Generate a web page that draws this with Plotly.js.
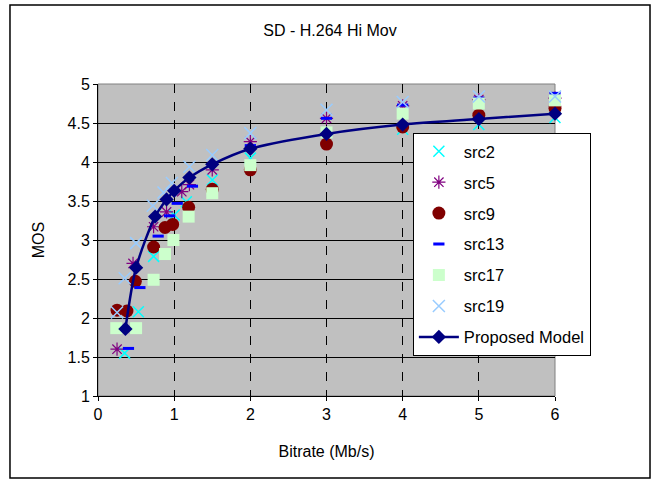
<!DOCTYPE html>
<html>
<head>
<meta charset="utf-8">
<script src="https://cdn.plot.ly/plotly-3.0.1.min.js"></script>
<style>html,body{margin:0;padding:0;background:#fff;}#chart{width:660px;height:485px;}</style>
</head>
<body>
<div id="chart"></div>
<script>
// Data
const src2X  = [0.35, 0.53, 0.73, 1.0, 1.16, 1.5, 2, 3, 4, 5, 6];
const src2Y  = [1.55, 2.08, 2.79, 3.32, 3.49, 3.77, 4.05, 4.28, 4.42, 4.48, 4.57];
const src5X  = [0.25, 0.46, 0.73, 0.9, 1.1, 1.2, 1.5, 2, 3, 4, 5, 6];
const src5Y  = [1.60, 2.70, 3.17, 3.36, 3.62, 3.71, 3.90, 4.26, 4.56, 4.72, 4.80, 4.82];
const src9X  = [0.25, 0.38, 0.49, 0.73, 0.88, 0.98, 1.19, 1.5, 2, 3, 4, 5, 6];
const src9Y  = [2.10, 2.09, 2.47, 2.91, 3.16, 3.20, 3.42, 3.65, 3.90, 4.23, 4.45, 4.60, 4.69];
const src13X = [0.40, 0.55, 0.79, 0.94, 1.04, 1.24, 2, 3, 4, 5, 6];
const src13Y = [1.61, 2.39, 3.05, 3.31, 3.47, 3.69, 4.21, 4.56, 4.73, 4.82, 4.88];
const src17X = [0.24, 0.5, 0.73, 0.88, 0.99, 1.19, 1.5, 2, 3, 4, 5, 6];
const src17Y = [1.87, 1.87, 2.49, 2.82, 3.00, 3.30, 3.60, 3.96, 4.38, 4.62, 4.75, 4.79];
const src19X = [0.25, 0.35, 0.5, 0.72, 0.86, 0.97, 1.2, 1.5, 2, 3, 4, 5, 6];
const src19Y = [2.07, 2.51, 2.96, 3.44, 3.61, 3.73, 3.94, 4.09, 4.37, 4.67, 4.77, 4.84, 4.84];
const modelX = [0.36, 0.5, 0.75, 0.9, 1.0, 1.2, 1.5, 2, 3, 4, 5, 6];
const modelY = [1.86, 2.645, 3.30, 3.52, 3.63, 3.80, 3.97, 4.17, 4.36, 4.48, 4.55, 4.62];
const xTicks = [0, 1, 2, 3, 4, 5, 6];
const yTicks = [1, 1.5, 2, 2.5, 3, 3.5, 4, 4.5, 5];

const FONT = 'Liberation Sans, Arial, sans-serif';

function sc(name, x, y, marker) {
  return {type: 'scatter', mode: 'markers', name: name, x: x, y: y,
          legendgroup: name, marker: marker, cliponaxis: false};
}

const traces = [
  sc('src2', src2X, src2Y, {symbol: 'x-thin-open', size: 11, color: '#00FFFF', line: {color: '#00FFFF', width: 1.5}}),
  sc('src5', src5X, src5Y, {symbol: 'asterisk-open', size: 11, color: '#800080', line: {color: '#800080', width: 1.2}}),
  sc('src9', src9X, src9Y, {symbol: 'circle', size: 13, color: '#800000', line: {width: 0}}),
  sc('src13', src13X, src13Y, {symbol: 'line-ew-open', size: 8, color: '#0000FF', line: {color: '#0000FF', width: 3}}),
  sc('src17', src17X, src17Y, {symbol: 'square', size: 12, color: '#CCFFCC', line: {width: 0}}),
  sc('src19', src19X, src19Y, {symbol: 'x-thin-open', size: 12, color: '#99CCFF', line: {color: '#99CCFF', width: 1.5}}),
  {type: 'scatter', mode: 'lines+markers', name: 'Proposed Model', legendgroup: 'model',
   x: modelX, y: modelY, line: {color: '#000080', width: 2.5, shape: 'spline', smoothing: 0.8},
   marker: {symbol: 'diamond', size: 11, color: '#000080'}, cliponaxis: false}
];

const layout = {
  width: 660, height: 485,
  paper_bgcolor: '#FFFFFF', plot_bgcolor: '#C0C0C0',
  margin: {l: 98, r: 105, t: 84, b: 89, pad: 0},
  font: {family: FONT, size: 16, color: '#000'},
  title: {text: 'SD - H.264 Hi Mov', font: {family: FONT, size: 16, color: '#000'}, x: 0.5, xanchor: 'center', y: 0.938, yanchor: 'middle'},
  xaxis: {range: [0, 6], tickvals: xTicks, ticktext: xTicks.map(String),
          showgrid: true, gridcolor: '#000', griddash: 'dash', gridwidth: 1,
          showline: true, linecolor: '#000', linewidth: 1, ticks: 'outside', ticklen: 4, tickcolor: '#000',
          zeroline: false, tickfont: {family: FONT, size: 16},
          title: {text: 'Bitrate (Mb/s)', font: {family: FONT, size: 16}, standoff: 23}},
  yaxis: {range: [1, 5], tickvals: yTicks, ticktext: yTicks.map(String),
          showgrid: true, gridcolor: '#000', gridwidth: 1,
          showline: true, linecolor: '#000', linewidth: 1, ticks: 'outside', ticklen: 4, tickcolor: '#000',
          zeroline: false, tickfont: {family: FONT, size: 16},
          title: {text: 'MOS', font: {family: FONT, size: 16}, standoff: 18}},
  legend: {x: 0.689, y: 0.843, xanchor: 'left', yanchor: 'top',
           bgcolor: '#FFFFFF', bordercolor: '#000', borderwidth: 1,
           font: {family: FONT, size: 16.5}, tracegroupgap: 6.5, itemwidth: 40},
  shapes: [
    {type: 'rect', xref: 'paper', yref: 'paper', x0: 0, x1: 1, y0: 0, y1: 1,
     line: {color: '#808080', width: 1}, fillcolor: 'rgba(0,0,0,0)', layer: 'below'},
    {type: 'rect', xref: 'paper', yref: 'paper', x0: -0.1926, x1: 1.2079, y0: -0.2628, y1: 1.2532,
     line: {color: '#000', width: 1.5}, fillcolor: 'rgba(0,0,0,0)'}
  ],
  showlegend: true
};

Plotly.newPlot('chart', traces, layout, {staticPlot: true, displayModeBar: false});
</script>
</body>
</html>
